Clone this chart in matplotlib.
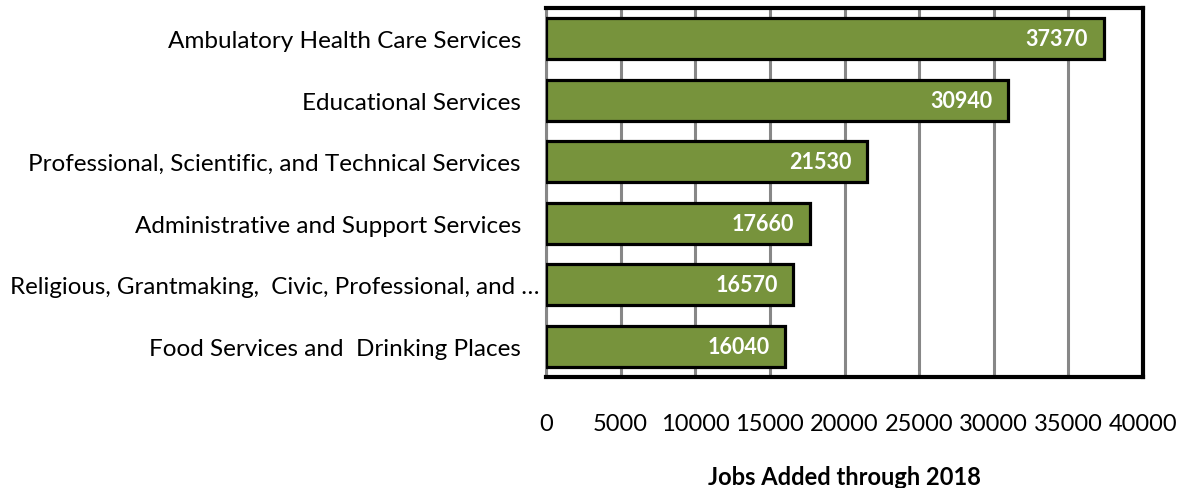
import matplotlib
matplotlib.use("Agg")
import matplotlib.pyplot as plt
import matplotlib.transforms as mtransforms

categories = [
    "Ambulatory Health Care Services",
    "Educational Services",
    "Professional, Scientific, and Technical Services",
    "Administrative and Support Services",
    "Religious, Grantmaking,  Civic, Professional, and …",
    "Food Services and  Drinking Places",
]
values = [37370, 30940, 21530, 17660, 16570, 16040]
xticks = [0, 5000, 10000, 15000, 20000, 25000, 30000, 35000, 40000]
xlabel = "Jobs Added through 2018"

plt.rcParams['font.family'] = ['Lato', 'DejaVu Sans']

fig = plt.figure(figsize=(11.85, 4.89), dpi=100)
ax = fig.add_axes([546/1185, 1-378/489, (1143-546)/1185, (378-9)/489])

y = list(range(len(categories)))
ax.barh(y, values, height=0.67, color="#77933C", edgecolor="black", linewidth=2.3, zorder=3)
ax.set_ylim(len(categories)-0.5, -0.5)
ax.set_xlim(0, 40000)
ax.set_xticks(xticks)
ax.set_xticklabels([str(t) for t in xticks], fontsize=17)
ax.set_yticks(y)
ax.set_yticklabels(categories, fontsize=17.5)
ax.tick_params(axis='both', length=0)
ax.tick_params(axis='x', pad=26)
ax.tick_params(axis='y', pad=18)
ax.xaxis.grid(True, color="#878787", linewidth=2.2, zorder=0)
ax.set_axisbelow(True)
for s in ['top', 'right', 'bottom']:
    ax.spines[s].set_color('black')
    ax.spines[s].set_linewidth(3)
ax.spines['left'].set_color('#878787')
ax.spines['left'].set_linewidth(2.2)

# the truncated label sits further right in the reference
lbl = ax.get_yticklabels()[4]
lbl.set_fontsize(17.4)
lbl.set_transform(lbl.get_transform() + mtransforms.ScaledTranslation(19/100, 0, fig.dpi_scale_trans))

for yi, v in zip(y, values):
    ax.text(v - 1050, yi, str(v), ha='right', va='center', color='white',
            fontsize=15.5, fontweight='bold', zorder=4)

ax.set_xlabel(xlabel, fontsize=17, fontweight='bold', labelpad=22)

fig.savefig("out.png", dpi=100)
